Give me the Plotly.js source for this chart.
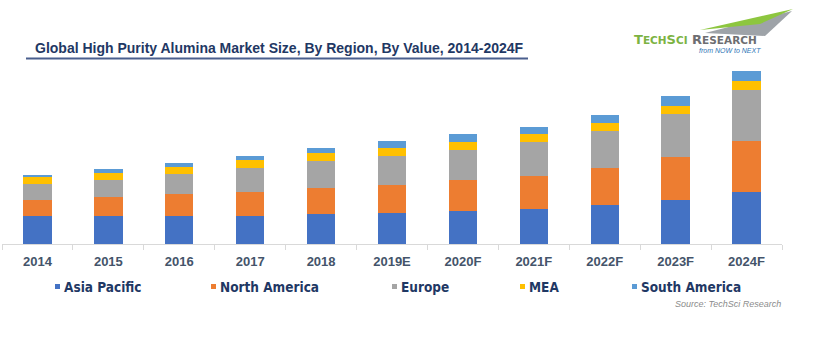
<!DOCTYPE html>
<html>
<head>
<meta charset="utf-8">
<script src="https://cdn.plot.ly/plotly-3.0.1.min.js"></script>
<style>
html,body{margin:0;padding:0;background:#fff;}
#chart{width:820px;height:350px;}
</style>
</head>
<body>
<div id="chart"></div>
<script>
// ---- data ----
const years = ["2014","2015","2016","2017","2018","2019E","2020F","2021F","2022F","2023F","2024F"];
const seriesNames = ["Asia Pacific","North America","Europe","MEA","South America"];
const asiaPacific  = [28.3, 28.3, 28.3, 28.3, 29.6, 31.3, 32.6, 35.3, 39.5, 44.5, 52.2];
const northAmerica = [15.7, 18.7, 21.3, 23.7, 26.4, 27.3, 31.4, 32.7, 36.7, 42.3, 50.6];
const europe       = [16.0, 17.0, 20.0, 24.0, 26.6, 29.4, 30.0, 34.3, 36.6, 43.4, 51.4];
const mea          = [6.6, 6.6, 7.7, 8.0, 8.0, 7.6, 8.3, 7.7, 8.4, 8.0, 9.3];
const southAmerica = [2.7, 4.0, 4.0, 4.3, 5.0, 7.0, 8.0, 7.3, 8.3, 9.6, 9.3];
const colors = ["#4472C4","#ED7D31","#A5A5A5","#FFC000","#5B9BD5"];
const titleText = "Global High Purity Alumina Market Size, By Region, By Value, 2014-2024F";
const sourceText = "Source: TechSci Research";

const values = [asiaPacific, northAmerica, europe, mea, southAmerica];

// ---- layout helpers (pixel -> paper) ----
const W = 820, H = 350, ML = 2, MR = 38, MT = 60, MB = 106;
const PW = W - ML - MR, PH = H - MT - MB;
const px = x => (x - ML) / PW;
const py = y => (H - MB - y) / PH;

const traces = seriesNames.map((name, i) => ({
  type: "bar",
  name: name,
  x: years,
  y: values[i],
  marker: {color: colors[i], line: {width: 0}},
  hoverinfo: "x+y+name"
}));

// legend drawn as small squares + labels
const legendTextX = [62, 218, 399, 527, 639];
const annotations = [];
const shapes = [];
seriesNames.forEach((name, i) => {
  const tx = legendTextX[i];
  shapes.push({type: "rect", xref: "paper", yref: "paper",
    x0: px(tx - 7), x1: px(tx - 2), y0: py(289), y1: py(284),
    fillcolor: colors[i], line: {width: 0}});
  annotations.push({
    xref: "paper", yref: "paper", x: px(tx), y: py(287),
    xanchor: "left", yanchor: "middle", showarrow: false,
    text: name,
    font: {family: "DejaVu Sans Condensed, Liberation Sans, Arial", size: 13.5, color: "#1F3864", weight: "bold"}
  });
});
annotations.push({
  xref: "paper", yref: "paper", x: px(783), y: py(304),
  xanchor: "right", yanchor: "middle", showarrow: false,
  text: "<i>" + sourceText + "</i>",
  font: {family: "Liberation Sans, Arial", size: 9, color: "#8c8c8c"}
});
annotations.push({
  xref: "paper", yref: "paper", x: px(33), y: py(48),
  xanchor: "left", yanchor: "middle", showarrow: false,
  text: "<b>" + titleText + "</b>",
  font: {family: "Liberation Sans, Arial", size: 14, color: "#1F3864"}
});
// logo text
annotations.push({
  xref: "paper", yref: "paper", x: px(632), y: py(40),
  xanchor: "left", yanchor: "middle", showarrow: false,
  text: '<span style="color:#7cb342">T<span style="font-size:10.5px">ECH</span>S<span style="font-size:10.5px">CI</span></span> <span style="color:#6d6e71">R<span style="font-size:10.5px">ESEARCH</span></span>',
  font: {family: "DejaVu Sans, Liberation Sans, Arial", size: 13, color: "#6d6e71", weight: "bold"}
});
annotations.push({
  xref: "paper", yref: "paper", x: px(763), y: py(50),
  xanchor: "right", yanchor: "middle", showarrow: false,
  text: "<i>from NOW to NEXT</i>",
  font: {family: "Liberation Sans, Arial", size: 7, color: "#2e75b6"}
});

function path(points) {
  return "M" + points.map(p => px(p[0]) + "," + py(p[1])).join(" L") + " Z";
}

shapes.push(
  {type: "line", xref: "paper", yref: "paper", x0: px(26), x1: px(528), y0: py(58.5), y1: py(58.5),
   line: {color: "#4a5f8e", width: 2}},
  {type: "path", xref: "paper", yref: "paper", path: path([[705,33],[792,11],[765,36]]),
   fillcolor: "#9ea3a8", line: {width: 0}},
  {type: "path", xref: "paper", yref: "paper", path: path([[700,30],[793,9],[760,24]]),
   fillcolor: "#8dc63f", line: {width: 0}}
);

const layout = {
  width: W, height: H,
  margin: {l: ML, r: MR, t: MT, b: MB, pad: 0},
  paper_bgcolor: "#ffffff", plot_bgcolor: "#ffffff",
  barmode: "stack", bargap: 0.6,
  showlegend: false,
  xaxis: {
    type: "category", showgrid: false, zeroline: false,
    showline: true, linecolor: "#d9d9d9", linewidth: 1,
    ticks: "outside", tickson: "boundaries", ticklen: 5, tickcolor: "#d9d9d9",
    ticklabelstandoff: 5,
    tickfont: {family: "Liberation Sans, Arial", size: 13, color: "#44546A", weight: "bold"},
    fixedrange: true
  },
  yaxis: {
    range: [0, PH], visible: false, showgrid: false, zeroline: false, fixedrange: true
  },
  annotations: annotations,
  shapes: shapes
};

Plotly.newPlot("chart", traces, layout, {displayModeBar: false, staticPlot: true});
</script>
</body>
</html>
